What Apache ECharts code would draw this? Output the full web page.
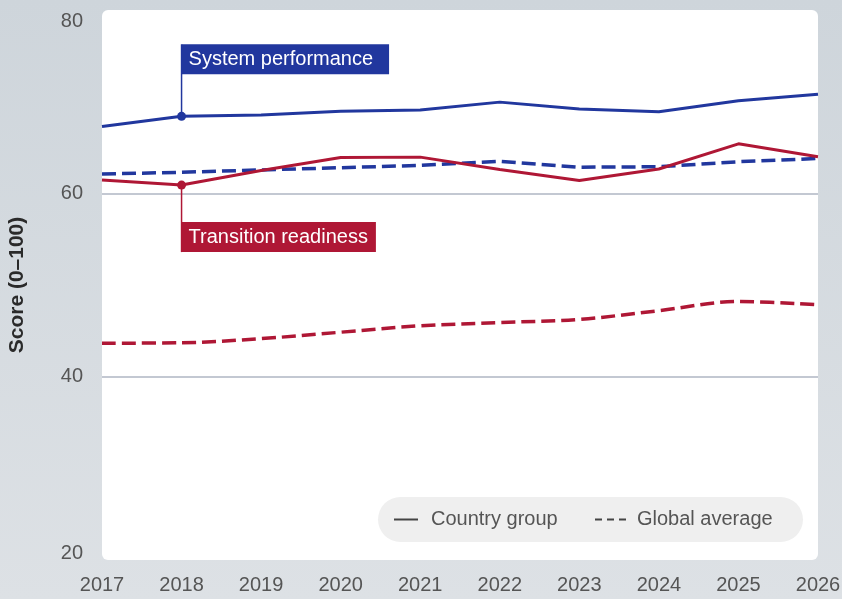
<!DOCTYPE html>
<html>
<head>
<meta charset="utf-8">
<script src="https://cdn.jsdelivr.net/npm/echarts@6/dist/echarts.min.js"></script>
<style>
  html, body { margin: 0; padding: 0; }
  #chart { width: 842px; height: 599px; }
</style>
</head>
<body>
<div id="chart"></div>
<script>
// Score series, 2017–2026
const years = ['2017', '2018', '2019', '2020', '2021', '2022', '2023', '2024', '2025', '2026'];
const perfCountry  = [67.3, 68.4, 68.55, 68.95, 69.1, 69.95, 69.2, 68.9, 70.1, 70.8];
const perfGlobal   = [62.1, 62.3, 62.55, 62.8, 63.05, 63.5, 62.85, 62.9, 63.45, 63.8];
const readyCountry = [61.45, 60.9, 62.5, 63.9, 63.95, 62.6, 61.4, 62.65, 65.4, 64.0];
const readyGlobal  = [43.65, 43.7, 44.15, 44.85, 45.55, 45.9, 46.25, 47.2, 48.2, 47.85];
const yTicks = [20, 40, 60, 80];
const labelPerf = 'System performance';
const labelReady = 'Transition readiness';
const legendNames = ['Country group', 'Global average'];
const axisTitle = 'Score (0–100)';
const markIndex = 1; // year carrying the callout markers

const BLUE = '#21379e';
const RED = '#af1735';
const FONT = '"Liberation Sans", Arial, sans-serif';

function withMarker(arr) {
  return arr.map((v, i) => i === markIndex
    ? { value: v, symbol: 'circle', symbolSize: 9 }
    : { value: v, symbol: 'none' });
}

const chart = echarts.init(document.getElementById('chart'), null, { renderer: 'canvas' });

const option = {
  animation: false,
  backgroundColor: new echarts.graphic.LinearGradient(0, 0, 0, 1, [
    { offset: 0, color: '#ced5db' },
    { offset: 1, color: '#dde1e5' }
  ]),
  textStyle: { fontFamily: FONT },
  grid: { left: 102, right: 24, top: 10, bottom: 39, containLabel: false, outerBoundsMode: 'none' },
  xAxis: {
    type: 'category',
    data: years,
    boundaryGap: false,
    axisLine: { show: false },
    axisTick: { show: false },
    axisLabel: { color: '#555', fontSize: 20, margin: 15, fontFamily: FONT, interval: 0, hideOverlap: false }
  },
  yAxis: {
    type: 'value',
    min: yTicks[0],
    max: yTicks[yTicks.length - 1],
    interval: yTicks[1] - yTicks[0],
    name: axisTitle,
    nameLocation: 'middle',
    nameGap: 74,
    nameRotate: 90,
    nameTextStyle: { color: '#2a2a2a', fontSize: 21, fontWeight: 'bold', fontFamily: FONT },
    axisLine: { show: false },
    axisTick: { show: false },
    splitLine: { show: true, showMinLine: false, showMaxLine: false,
      lineStyle: { color: '#c3c8d2', width: 2 } },
    axisLabel: {
      margin: 19,
      color: '#555',
      fontSize: 20,
      fontFamily: FONT,
      formatter: v => v === yTicks[yTicks.length - 1] ? '{top|' + v + '}'
        : v === yTicks[0] ? '{bot|' + v + '}' : '{n|' + v + '}',
      rich: {
        n:   { color: '#555', fontSize: 20, fontFamily: FONT },
        top: { color: '#555', fontSize: 20, fontFamily: FONT, padding: [23, 0, 0, 0] },
        bot: { color: '#555', fontSize: 20, fontFamily: FONT, padding: [0, 0, 14, 0] }
      }
    }
  },
  series: [
    {
      name: 'Transition readiness – Global average',
      type: 'line',
      data: readyGlobal,
      symbol: 'none',
      smooth: 0.35,
      lineStyle: { color: RED, width: 3.5, type: [14, 6] },
      z: 3
    },
    {
      name: 'System performance – Global average',
      type: 'line',
      data: perfGlobal,
      symbol: 'none',
      lineStyle: { color: BLUE, width: 3.5, type: [14, 6] },
      z: 3
    },
    {
      name: 'Transition readiness – Country group',
      type: 'line',
      data: withMarker(readyCountry),
      itemStyle: { color: RED },
      lineStyle: { color: RED, width: 3 },
      z: 4
    },
    {
      name: 'System performance – Country group',
      type: 'line',
      data: withMarker(perfCountry),
      itemStyle: { color: BLUE },
      lineStyle: { color: BLUE, width: 3 },
      z: 4
    }
  ]
};

chart.setOption(option);

// Panel, callouts and legend placed from the axis scales
const pPerf = chart.convertToPixel({ seriesIndex: 3 }, [markIndex, perfCountry[markIndex]]);
const pReady = chart.convertToPixel({ seriesIndex: 2 }, [markIndex, readyCountry[markIndex]]);
const gridTop = chart.convertToPixel({ yAxisIndex: 0 }, yTicks[yTicks.length - 1]);
const gridBottom = chart.convertToPixel({ yAxisIndex: 0 }, yTicks[0]);
const gridLeft = chart.convertToPixel({ xAxisIndex: 0 }, years[0]);
const gridRight = chart.convertToPixel({ xAxisIndex: 0 }, years[years.length - 1]);

const perfBoxTop = pPerf[1] - 72;
const readyBoxBottom = pReady[1] + 67;

const legendX = 378, legendY = 497, legendW = 425, legendH = 45;
const legendMid = legendY + legendH / 2;

chart.setOption({
  graphic: [
    {
      type: 'rect', z: -10, silent: true,
      shape: { x: gridLeft, y: gridTop, width: gridRight - gridLeft, height: gridBottom - gridTop, r: 6 },
      style: { fill: '#ffffff' }
    },
    // System performance callout
    {
      type: 'line', z: 5, silent: true,
      shape: { x1: pPerf[0], y1: perfBoxTop, x2: pPerf[0], y2: pPerf[1] },
      style: { stroke: BLUE, lineWidth: 1.5 }
    },
    {
      type: 'text', z: 6, silent: true,
      x: pPerf[0], y: perfBoxTop,
      style: {
        text: labelPerf, fill: '#ffffff', font: '20px ' + FONT,
        backgroundColor: BLUE, padding: [5, 16, 5, 7],
        verticalAlign: 'top', align: 'left'
      }
    },
    // Transition readiness callout
    {
      type: 'line', z: 5, silent: true,
      shape: { x1: pReady[0], y1: pReady[1], x2: pReady[0], y2: readyBoxBottom },
      style: { stroke: RED, lineWidth: 1.5 }
    },
    {
      type: 'text', z: 6, silent: true,
      x: pReady[0], y: readyBoxBottom,
      style: {
        text: labelReady, fill: '#ffffff', font: '20px ' + FONT,
        backgroundColor: RED, padding: [5, 8, 5, 7],
        verticalAlign: 'bottom', align: 'left'
      }
    },
    // Legend
    {
      type: 'rect', z: 5, silent: true,
      shape: { x: legendX, y: legendY, width: legendW, height: legendH, r: 22.5 },
      style: { fill: '#efefef' }
    },
    {
      type: 'line', z: 6, silent: true,
      shape: { x1: 394, y1: legendMid, x2: 418, y2: legendMid },
      style: { stroke: '#444', lineWidth: 2 }
    },
    {
      type: 'text', z: 6, silent: true,
      x: 431, y: legendMid,
      style: { text: legendNames[0], fill: '#555', font: '20px ' + FONT, verticalAlign: 'middle' }
    },
    {
      type: 'line', z: 6, silent: true,
      shape: { x1: 595, y1: legendMid, x2: 626, y2: legendMid },
      style: { stroke: '#444', lineWidth: 2, lineDash: [7, 5] }
    },
    {
      type: 'text', z: 6, silent: true,
      x: 637, y: legendMid,
      style: { text: legendNames[1], fill: '#555', font: '20px ' + FONT, verticalAlign: 'middle' }
    }
  ]
});
</script>
</body>
</html>
